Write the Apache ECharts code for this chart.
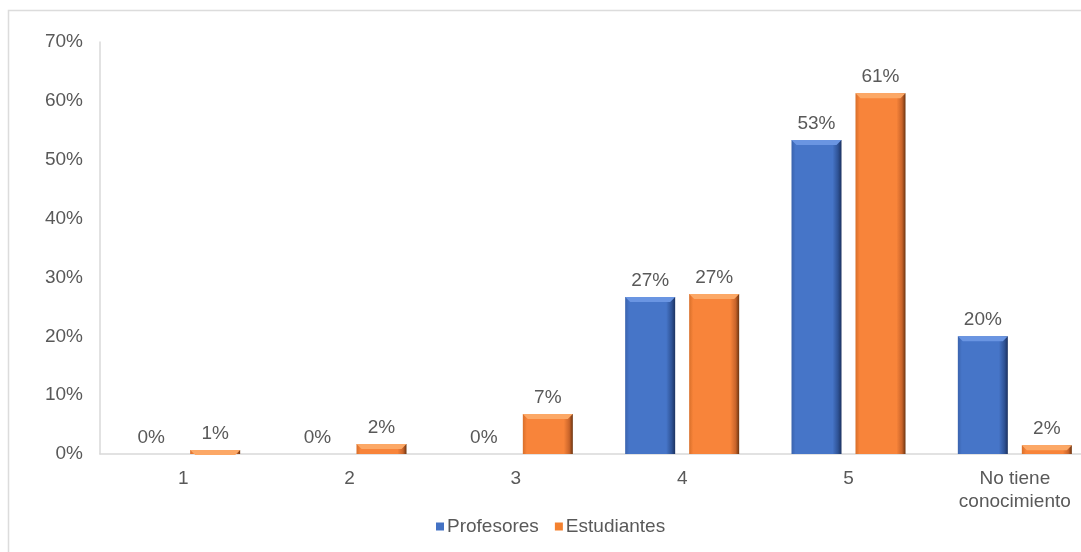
<!DOCTYPE html>
<html>
<head>
<meta charset="utf-8">
<script src="https://cdn.jsdelivr.net/npm/echarts@6/dist/echarts.min.js"></script>
<style>html,body{margin:0;padding:0;background:#fff;overflow:hidden;width:1081px;height:552px}#c{width:1100px;height:552px}</style>
</head>
<body>
<div id="c"></div>
<script>
const categories = ['1', '2', '3', '4', '5', 'No tiene\nconocimiento'];
const profesores = [0, 0, 0, 26.67, 53.33, 20];
const estudiantes = [0.7, 1.7, 6.8, 27.2, 61.3, 1.5];
const seriesNames = ['Profesores', 'Estudiantes'];
const yTicks = [0, 10, 20, 30, 40, 50, 60, 70];

const chart = echarts.init(document.getElementById('c'));
const textColor = '#595959';
const font = 'Liberation Sans, Arial, sans-serif';
const fs = 19;

function grad(c0, c1, c2, c3) {
  return new echarts.graphic.LinearGradient(0, 0, 1, 0, [
    {offset: 0, color: c0},
    {offset: 0.08, color: c1},
    {offset: 0.82, color: c1},
    {offset: 0.93, color: c2},
    {offset: 1, color: c3}
  ]);
}
const blueFill = grad('#3a63ad', '#4675c8', '#2f5396', '#1c3260');
const orangeFill = grad('#d86f2a', '#f8843a', '#c9642a', '#6b3410');

const labelCfg = {
  show: true, position: 'top', distance: 7,
  color: textColor, fontSize: fs, fontFamily: font,
  formatter: p => Math.round(p.value) + '%'
};

const nz = arr => arr.map(v => (v > 0 ? v : '-'));
function bevelTop(name, values, topColor) {
  return {
    name: name + '_top', type: 'pictorialBar', data: nz(values),
    barWidth: 50, barGap: '28%', z: 5, silent: true,
    symbol: 'path://M0,0 L50,0 L45,5 L5,5 Z',
    symbolSize: [50, 5], symbolPosition: 'end',
    itemStyle: {color: topColor}, label: {show: false}
  };
}

chart.setOption({
  animation: false,
  backgroundColor: '#fff',
  graphic: [{
    type: 'rect', left: 6, top: 8, silent: true, z: -10,
    shape: {x: 0, y: 0, width: 1200, height: 700},
    style: {fill: 'none', stroke: '#dcdcdc', lineWidth: 1.5}
  }],
  grid: {left: 100, top: 42, width: 998, bottom: 98, containLabel: false},
  legend: {
    bottom: 11, left: 431,
    itemWidth: 8, itemHeight: 8, itemGap: 16,
    icon: 'rect',
    textStyle: {color: textColor, fontSize: fs, fontFamily: font, padding: [0, 0, 0, -2]},
    data: [
      {name: seriesNames[0], itemStyle: {color: '#4472c4'}},
      {name: seriesNames[1], itemStyle: {color: '#f4812f'}}
    ]
  },
  xAxis: {
    type: 'category', data: categories,
    axisLine: {lineStyle: {color: '#d9d9d9', width: 1.5}},
    axisTick: {show: false},
    axisLabel: {color: textColor, fontSize: fs, fontFamily: font, margin: 13, lineHeight: 23}
  },
  yAxis: {
    type: 'value', min: yTicks[0], max: yTicks[yTicks.length - 1], interval: 10,
    axisLine: {show: true, lineStyle: {color: '#d9d9d9', width: 1.5}},
    axisTick: {show: false},
    splitLine: {show: false},
    axisLabel: {color: textColor, fontSize: fs, fontFamily: font, margin: 17, formatter: '{value}%'}
  },
  series: [
    {
      name: seriesNames[0], type: 'bar', data: profesores,
      barWidth: 50, barGap: '28%',
      itemStyle: {color: blueFill},
      label: labelCfg
    },
    {
      name: seriesNames[1], type: 'bar', data: estudiantes,
      barWidth: 50, barGap: '28%',
      itemStyle: {color: orangeFill},
      label: labelCfg
    },
    bevelTop('p', profesores, '#6a95e2'),
    bevelTop('e', estudiantes, '#fca866')
  ]
});
</script>
</body>
</html>
